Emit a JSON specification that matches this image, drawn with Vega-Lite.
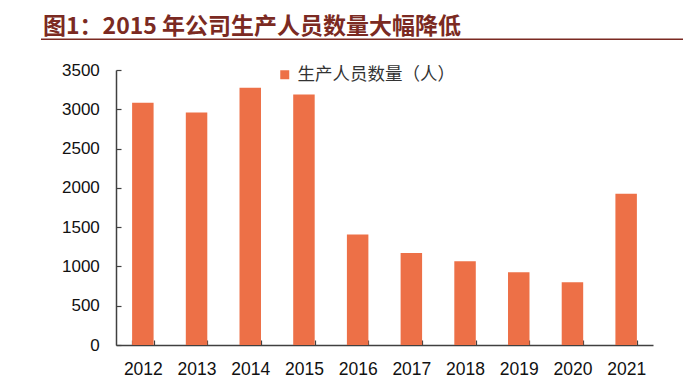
{
  "$schema": "https://vega.github.io/schema/vega-lite/v6.json",
  "width": 537,
  "height": 275,
  "autosize": {"type": "none"},
  "padding": {"left": 116, "top": 70, "right": 30, "bottom": 47},
  "background": "white",
  "config": {
    "view": {"stroke": null},
    "axisY": {
      "title": null,
      "values": [0, 500, 1000, 1500, 2000, 2500, 3000, 3500],
      "format": "d",
      "labelOverlap": false,
      "grid": false,
      "tickSize": -5,
      "tickColor": "#404040",
      "tickWidth": 1.2,
      "domainColor": "#404040",
      "domainWidth": 1.5,
      "labelFont": "Liberation Sans",
      "labelFontSize": 17,
      "labelColor": "#111111",
      "labelPadding": 21.7
    }
  },
  "title": {
    "text": "图1：2015 年公司生产人员数量大幅降低",
    "anchor": "start",
    "frame": "group",
    "dx": -73,
    "offset": 0,
    "font": "Noto Sans CJK SC",
    "fontSize": 23,
    "fontWeight": "bold",
    "color": "#7B2A22"
  },
  "data": {
    "values": [
      {"year": "2012", "count": 3083},
      {"year": "2013", "count": 2960},
      {"year": "2014", "count": 3274},
      {"year": "2015", "count": 3189},
      {"year": "2016", "count": 1405},
      {"year": "2017", "count": 1172},
      {"year": "2018", "count": 1066},
      {"year": "2019", "count": 926},
      {"year": "2020", "count": 799},
      {"year": "2021", "count": 1924}
    ]
  },
  "layer": [
    {
      "mark": {"type": "bar"},
      "encoding": {
        "x": {
          "field": "year",
          "type": "nominal",
          "scale": {"paddingInner": 0.6, "paddingOuter": 0.3},
          "axis": {
            "title": null,
            "labelAngle": 0,
            "tickBand": "extent",
            "tickSize": -5,
            "tickColor": "#404040",
            "tickWidth": 1.2,
            "domainColor": "#404040",
            "domainWidth": 1.5,
            "labelFont": "Liberation Sans",
            "labelFontSize": 17.5,
            "labelColor": "#111111",
            "labelPadding": 20.4
          }
        },
        "y": {
          "field": "count",
          "type": "quantitative",
          "title": null,
          "scale": {"domain": [0, 3500], "nice": false}
        },
        "color": {
          "datum": "生产人员数量（人）",
          "type": "nominal",
          "scale": {"range": ["#ED7047"]},
          "legend": {
            "title": null,
            "orient": "none",
            "legendX": 160,
            "legendY": -4,
            "padding": 0,
            "symbolType": "square",
            "symbolSize": 81,
            "symbolStrokeWidth": 0,
            "labelFont": "Noto Sans CJK SC",
            "labelFontSize": 17.5,
            "labelColor": "#333333",
            "labelOffset": 4
          }
        }
      }
    },
    {
      "data": {"values": [{"item": "title underline"}]},
      "mark": {"type": "rule", "color": "#7B2A22", "strokeWidth": 1.5},
      "encoding": {
        "x": {
          "datum": -0.1397,
          "type": "quantitative",
          "scale": {"domain": [0, 1], "nice": false, "zero": false},
          "axis": null
        },
        "x2": {"datum": 1.0559},
        "y": {
          "datum": 3891,
          "type": "quantitative",
          "title": null,
          "scale": {"domain": [0, 3500], "nice": false}
        }
      }
    }
  ],
  "resolve": {"scale": {"x": "independent"}, "axis": {"x": "independent"}}
}
